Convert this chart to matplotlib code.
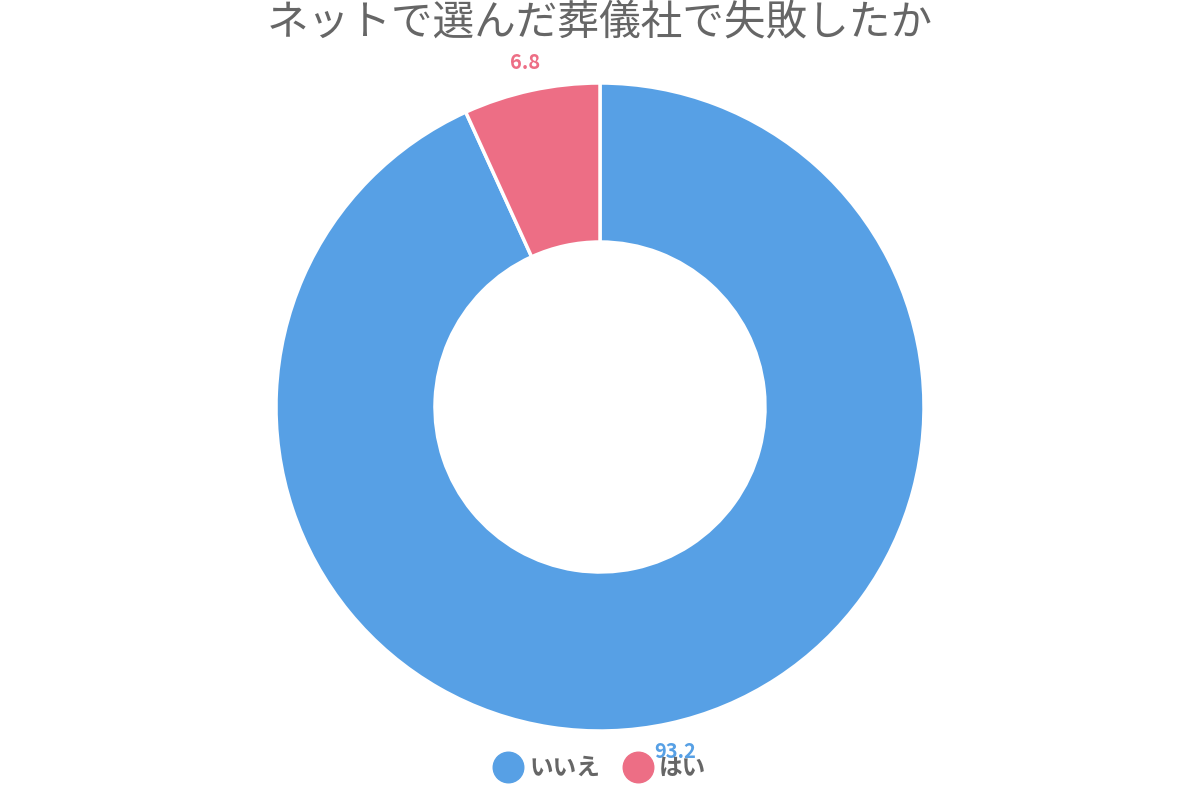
import matplotlib.pyplot as plt
from matplotlib.lines import Line2D

plt.rcParams['font.family'] = ['Noto Sans CJK JP', 'DejaVu Sans']

# data
title = 'ネットで選んだ葬儀社で失敗したか'
labels = ['いいえ', 'はい']
values = [93.2, 6.8]
colors = ['#57A0E5', '#ED6E85']

fig = plt.figure(figsize=(12, 8), dpi=100)
ax = fig.add_axes([0, 0, 1, 1])

cx, cy = 600, 800 - 407
r_out, r_in = 324, 165

# donut, starts at 12 o'clock and runs clockwise
wedges, texts = ax.pie(values, colors=colors, startangle=90, counterclock=False,
                       center=(cx, cy), radius=r_out, labels=[f'{v}' for v in values],
                       labeldistance=353 / r_out, frame=True,
                       wedgeprops=dict(width=r_out - r_in, edgecolor='white', linewidth=2.5),
                       textprops=dict(fontsize=14.5, fontweight='bold', ha='center', va='center'))
for t, c in zip(texts, colors):
    t.set_color(c)
    t.set_ha('center')
ax.set_xlim(0, 1200)
ax.set_ylim(0, 800)
ax.set_aspect('equal')
ax.axis('off')

ax.text(600, 800 - 23, title, fontsize=30, color='#666666', ha='center', va='center')

handles = [Line2D([], [], marker='o', linestyle='', markersize=22, markerfacecolor=c,
                  markeredgecolor=c) for c in colors]
leg = ax.legend(handles, labels, loc='center', bbox_to_anchor=(0.5, 1 - 768 / 800),
                ncol=2, frameon=False, handletextpad=0.3, columnspacing=1.0,
                prop=dict(size=17, weight='bold'), handlelength=1.2)
for t in leg.get_texts():
    t.set_color('#666666')

fig.savefig('out.png', dpi=100)
